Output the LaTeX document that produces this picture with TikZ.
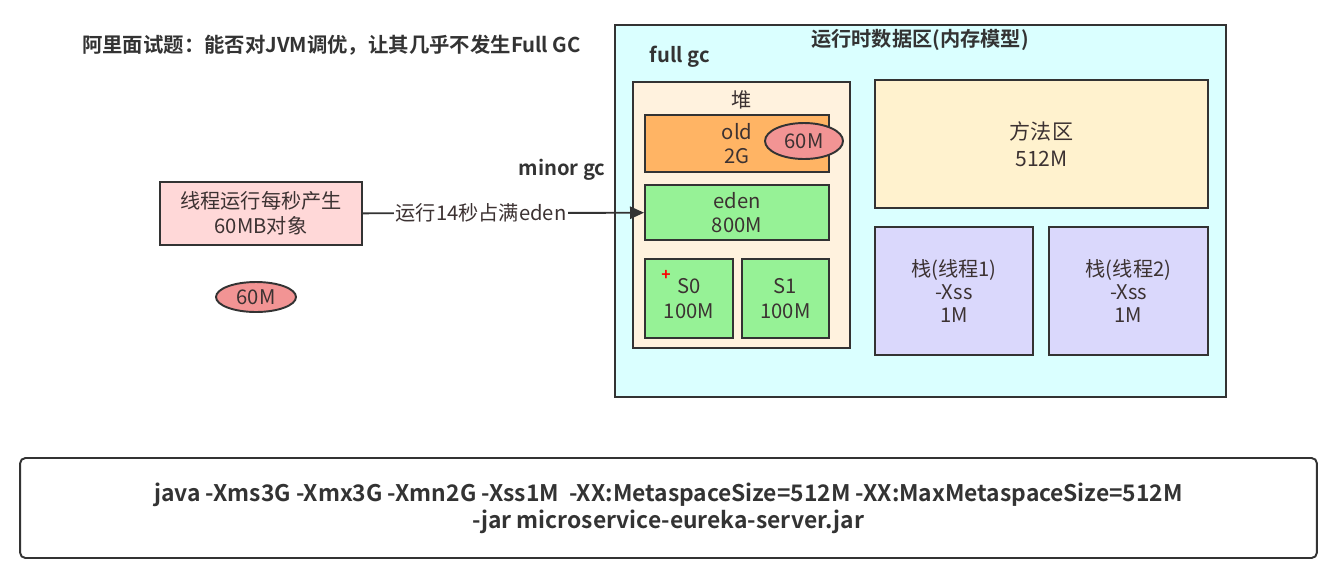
\documentclass[tikz,border=0pt]{standalone}
\usepackage{fontspec}
\setmainfont{Noto Sans CJK SC}[BoldFont={Noto Sans CJK SC Bold}]
\usetikzlibrary{shapes.geometric,arrows.meta}

\definecolor{boxline}{RGB}{51,51,51}
\definecolor{txtgray}{RGB}{60,50,50}
\definecolor{areacyan}{RGB}{218,255,255}
\definecolor{heapcream}{RGB}{255,242,222}
\definecolor{oldorange}{RGB}{255,180,100}
\definecolor{edengreen}{RGB}{150,242,150}
\definecolor{methodcream}{RGB}{255,242,206}
\definecolor{stacklav}{RGB}{218,216,252}
\definecolor{threadpink}{RGB}{255,216,216}
\definecolor{objpink}{RGB}{242,148,148}

\tikzset{
  box/.style={draw=boxline, line width=1.1pt, align=center, text=txtgray,
    inner sep=0pt, font=\fontsize{11.5}{14}\selectfont},
  obj/.style={ellipse, draw=boxline, line width=1.1pt, fill=objpink, inner sep=0pt,
    text=txtgray, font=\fontsize{11.5}{14}\selectfont},
  heading/.style={text=boxline, font=\bfseries\fontsize{11.5}{14}\selectfont}
}

\begin{document}
\begin{tikzpicture}[x=0.02cm, y=-0.02cm]
  %%%%% START %%%%%
  \useasboundingbox (0, 0) rectangle (1337, 569);

  \node[heading, font=\bfseries\fontsize{11.6}{14}\selectfont, anchor=west] (question) at (76, 45)
    {阿里面试题：能否对JVM调优，让其几乎不发生Full GC};

  % runtime data area
  \node[box, fill=areacyan, minimum width=12.22cm, minimum height=7.44cm] (area) at (920.5, 211) {};
  \node[heading] (areatitle) at (920, 40) {运行时数据区(内存模型)};
  \node[heading] (fullgc) at (680, 57) {full gc};

  % heap
  \node[box, fill=heapcream, minimum width=4.34cm, minimum height=5.32cm] (heap) at (741.5, 215) {};
  \node[text=txtgray, font=\fontsize{11.5}{14}\selectfont] (heaptitle) at (742, 100) {堆};
  \node[box, fill=oldorange, minimum width=3.68cm, minimum height=1.14cm] (old) at (737, 143.5) {old\\2G};
  \node[obj, minimum width=1.56cm, minimum height=0.72cm] (oldobj) at (804, 141) {60M};
  \node[box, fill=edengreen, minimum width=3.68cm, minimum height=1.10cm] (eden) at (737, 212.5) {eden\\800M};
  \node[box, fill=edengreen, minimum width=1.76cm, minimum height=1.58cm] (szero) at (689, 298.5) {S0\\100M};
  \node[box, fill=edengreen, minimum width=1.74cm, minimum height=1.58cm] (sone) at (785.5, 298.5) {S1\\100M};
  \node[text=red, font=\bfseries\fontsize{9}{10}\selectfont, inner sep=0pt] (plus) at (666, 275) {+};

  % method area and stacks
  \node[box, fill=methodcream, minimum width=6.66cm, minimum height=2.56cm,
    font=\fontsize{12}{15.5}\selectfont] (method) at (1041.5, 144) {方法区\\512M};
  \node[box, fill=stacklav, minimum width=3.16cm, minimum height=2.56cm,
    font=\fontsize{11.5}{13}\selectfont] (stackone) at (954, 291) {栈(线程1)\\-Xss\\1M};
  \node[box, fill=stacklav, minimum width=3.18cm, minimum height=2.56cm,
    font=\fontsize{11.5}{13}\selectfont] (stacktwo) at (1128.5, 291) {栈(线程2)\\-Xss\\1M};

  % thread producing objects
  \node[box, fill=threadpink, minimum width=4.04cm, minimum height=1.26cm] (thread) at (261, 213.5)
    {线程运行每秒产生\\60MB对象};
  \node[obj, minimum width=1.6cm, minimum height=0.6cm] (newobj) at (256, 297) {60M};
  \node[heading] (minorgc) at (562, 170) {minor gc};

  \draw[line width=1.1pt, draw=boxline, -{Triangle[length=8pt, width=7pt]}] (thread) --
    node[pos=0.42, fill=white, inner sep=1pt, text=txtgray, font=\fontsize{11.5}{14}\selectfont] {运行14秒占满eden} (eden);

  % command line
  \node[draw=boxline, line width=1.1pt, rounded corners=3pt, minimum width=25.94cm, minimum height=2.0cm,
    align=center, text=boxline, font=\bfseries\fontsize{13}{15.5}\selectfont] (cmd) at (668.5, 508)
    {java -Xms3G -Xmx3G -Xmn2G -Xss1M\ \ -XX:MetaspaceSize=512M -XX:MaxMetaspaceSize=512M\\
     -jar microservice-eureka-server.jar};

  %%%%% END %%%%%
\end{tikzpicture}
\end{document}
